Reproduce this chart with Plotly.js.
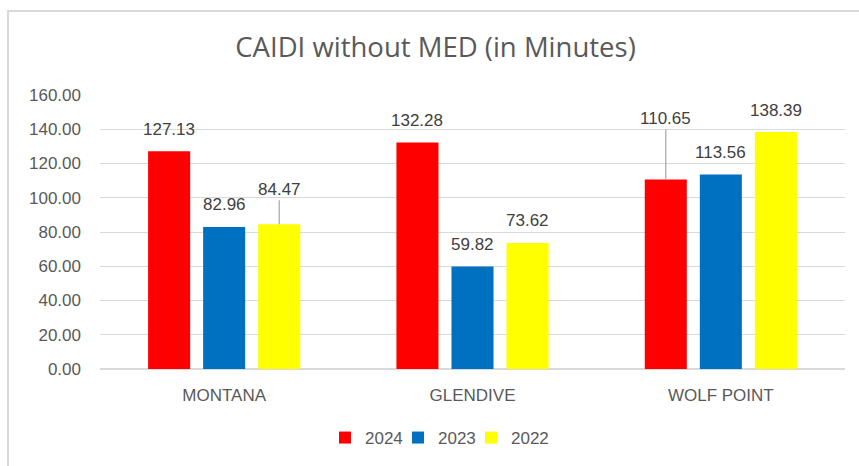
<!DOCTYPE html>
<html>
<head>
<meta charset="utf-8">
<script src="https://cdn.plot.ly/plotly-3.0.1.min.js"></script>
<style>
  html, body { margin: 0; padding: 0; background: #fff; }
  #wrap { position: relative; width: 859px; height: 466px; }
  #plot { width: 859px; height: 466px; }
  #frame {
    position: absolute; left: 7px; top: 10px; right: -5px; bottom: -5px;
    border-left: 2px solid #d9d9d9; border-top: 2px solid #d9d9d9;
    pointer-events: none;
  }
</style>
</head>
<body>
<div id="wrap">
  <div id="plot"></div>
  <div id="frame"></div>
</div>
<script>
// --- datos ---
const categories = ['MONTANA', 'GLENDIVE', 'WOLF POINT'];
const seriesNames = ['2024', '2023', '2022'];
const values2024 = [127.13, 132.28, 110.65];
const values2023 = [82.96, 59.82, 113.56];
const values2022 = [84.47, 73.62, 138.39];
const seriesColors = ['#ff0000', '#0070c0', '#ffff00'];

const allValues = [values2024, values2023, values2022];

const BARGAP = 0.335;
const BARGROUPGAP = 0.236;
const LABEL_FONT = { family: 'Liberation Sans, Arial, sans-serif', size: 17, color: '#404040' };

// trazas de barras
const traces = allValues.map((vals, i) => ({
  type: 'bar',
  name: seriesNames[i],
  x: categories.map((_, j) => j),
  y: vals,
  marker: { color: seriesColors[i], line: { width: 0 } },
  hoverinfo: 'skip'
}));

// etiquetas de datos (algunas con linea guia)
const leaders = { '0-2': -35, '2-0': -61 };
const slot = (1 - BARGAP) / seriesNames.length;
const annotations = [];
allValues.forEach((vals, i) => {
  vals.forEach((v, j) => {
    const xPos = j + (i - 1) * slot;
    const key = j + '-' + i;
    if (leaders[key] !== undefined) {
      annotations.push({
        x: xPos, y: v, xref: 'x', yref: 'y',
        text: v.toFixed(2), font: LABEL_FONT,
        showarrow: true, arrowhead: 0, arrowwidth: 1.2, arrowcolor: '#a6a6a6',
        ax: 0, ay: leaders[key], standoff: 0
      });
    } else {
      annotations.push({
        x: xPos, y: v, xref: 'x', yref: 'y',
        text: v.toFixed(2), font: LABEL_FONT,
        showarrow: false, yanchor: 'middle', yshift: 22
      });
    }
  });
});

const layout = {
  width: 859,
  height: 466,
  margin: { l: 100, r: 14, t: 95, b: 97 },
  paper_bgcolor: '#ffffff',
  plot_bgcolor: '#ffffff',
  barmode: 'group',
  bargap: BARGAP,
  bargroupgap: BARGROUPGAP,
  title: {
    text: 'CAIDI without MED (in Minutes)',
    font: { family: 'Open Sans, Liberation Sans, sans-serif', size: 27.5, color: '#595959' },
    x: 0.507, xanchor: 'center',
    y: 1 - 47 / 466, yanchor: 'middle', yref: 'container'
  },
  xaxis: {
    type: 'linear',
    tickmode: 'array',
    tickvals: categories.map((_, j) => j),
    ticktext: categories,
    range: [-0.5, categories.length - 0.5],
    showgrid: false,
    zeroline: false,
    showline: false,
    ticks: '',
    ticklabelstandoff: 14,
    tickfont: { family: 'Liberation Sans, Arial, sans-serif', size: 17, color: '#595959' }
  },
  yaxis: {
    range: [0, 160],
    dtick: 20,
    tickformat: '.2f',
    showgrid: true,
    gridcolor: '#d9d9d9',
    gridwidth: 1,
    zeroline: true,
    zerolinecolor: '#d9d9d9',
    zerolinewidth: 1.5,
    showline: false,
    ticks: '',
    ticklabelstandoff: 18,
    tickfont: { family: 'Liberation Sans, Arial, sans-serif', size: 17, color: '#595959' }
  },
  legend: {
    orientation: 'h',
    xref: 'container', yref: 'container',
    x: 325 / 859, xanchor: 'left',
    y: 1 - 438 / 466, yanchor: 'middle',
    entrywidth: 28, entrywidthmode: 'pixels',
    font: { family: 'Liberation Sans, Arial, sans-serif', size: 17, color: '#595959' },
    itemclick: false,
    traceorder: 'normal'
  },
  annotations: annotations,
  showlegend: true
};

Plotly.newPlot('plot', traces, layout, { displayModeBar: false, staticPlot: true }).then(gd => {
  // la leyenda recorta el ultimo texto con entrywidth fijo
  gd.querySelectorAll('.legend .scrollbox, .legend').forEach(el => el.removeAttribute('clip-path'));
});
</script>
</body>
</html>
